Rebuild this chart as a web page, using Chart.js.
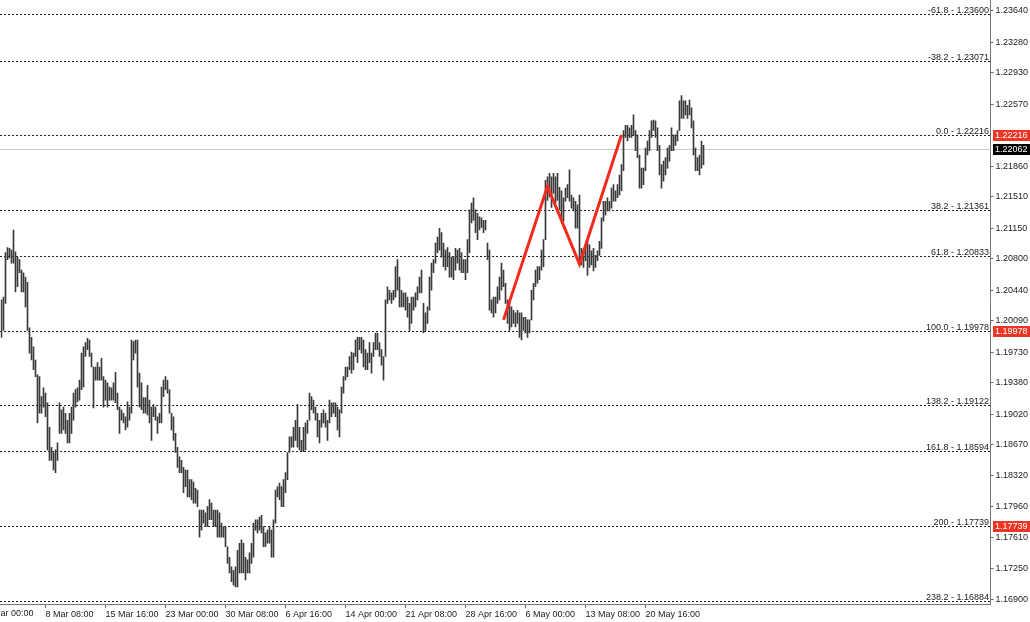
<!DOCTYPE html>
<html>
<head>
<meta charset="utf-8">
<title>EURUSD H4 - Fibonacci</title>
<script src="https://cdn.jsdelivr.net/npm/chart.js@4.4.1/dist/chart.umd.min.js"></script>
<style>
    html, body { margin: 0; padding: 0; background: #fff; }
    #wrap { width: 1030px; height: 622px; }
</style>
</head>
<body>
<div id="wrap"><canvas id="priceChart" width="1030" height="622"></canvas></div>
<script>
        // bar highs / lows, one per 4h bar, oldest first
        const highs = [
            1.2033, 1.2036, 1.2087, 1.2093, 1.2092, 1.2090, 1.2113, 1.2088, 1.2082, 1.2079,
            1.2067, 1.2064, 1.2059, 1.2053, 1.2001, 1.1990, 1.1979, 1.1964, 1.1947, 1.1945,
            1.1922, 1.1932, 1.1926, 1.1915, 1.1887, 1.1864, 1.1858, 1.1861, 1.1869, 1.1915,
            1.1907, 1.1910, 1.1903, 1.1895, 1.1903, 1.1910, 1.1926, 1.1930, 1.1932, 1.1941,
            1.1972, 1.1979, 1.1984, 1.1989, 1.1987, 1.1972, 1.1956, 1.1956, 1.1961, 1.1956,
            1.1966, 1.1945, 1.1941, 1.1938, 1.1933, 1.1932, 1.1938, 1.1950, 1.1926, 1.1910,
            1.1907, 1.1903, 1.1899, 1.1916, 1.1910, 1.1987, 1.1985, 1.1987, 1.1987, 1.1949,
            1.1938, 1.1921, 1.1921, 1.1935, 1.1918, 1.1910, 1.1913, 1.1910, 1.1899, 1.1903,
            1.1933, 1.1941, 1.1945, 1.1941, 1.1930, 1.1903, 1.1899, 1.1880, 1.1864,
            1.1853, 1.1849, 1.1841, 1.1838, 1.1838, 1.1827, 1.1827, 1.1824, 1.1817, 1.1815,
            1.1792, 1.1792, 1.1792, 1.1789, 1.1796, 1.1804, 1.1800, 1.1792, 1.1792, 1.1792,
            1.1789, 1.1777, 1.1773, 1.1773, 1.1750, 1.1738, 1.1727, 1.1723, 1.1727, 1.1746,
            1.1754, 1.1758, 1.1754, 1.1738, 1.1735, 1.1743, 1.1754, 1.1777, 1.1781, 1.1781,
            1.1784, 1.1786, 1.1773, 1.1766, 1.1769, 1.1773, 1.1769, 1.1781, 1.1815, 1.1819,
            1.1823, 1.1819, 1.1827, 1.1835, 1.1858, 1.1876, 1.1876, 1.1887, 1.1895, 1.1913,
            1.1887, 1.1872, 1.1887, 1.1892, 1.1895, 1.1926, 1.1922, 1.1918, 1.1910, 1.1903,
            1.1895, 1.1903, 1.1907, 1.1903, 1.1895, 1.1918, 1.1915, 1.1915, 1.1915, 1.1910,
            1.1907, 1.1933, 1.1945, 1.1956, 1.1956, 1.1968, 1.1973,
            1.1972, 1.1987, 1.1990, 1.1990, 1.1990, 1.1987, 1.1976, 1.1972, 1.1984, 1.1972,
            1.1984, 1.1995, 1.1995, 1.1984, 1.1976, 1.1968, 1.2033, 1.2048, 1.2044, 1.2041,
            1.2044, 1.2071, 1.2079, 1.2059, 1.2044, 1.2041, 1.2041, 1.2036, 1.2029, 1.2036,
            1.2036, 1.2041, 1.2048, 1.2059, 1.2067, 1.2029, 1.2018, 1.2025, 1.2059, 1.2075,
            1.2079, 1.2098, 1.2105, 1.2115, 1.2110, 1.2098, 1.2090, 1.2093, 1.2087, 1.2082,
            1.2082, 1.2092, 1.2090, 1.2092, 1.2087, 1.2079, 1.2079, 1.2102, 1.2136, 1.2144,
            1.2150, 1.2136, 1.2132, 1.2128, 1.2127, 1.2124, 1.2124, 1.2098, 1.2090, 1.2033,
            1.2036, 1.2036, 1.2048, 1.2059, 1.2075, 1.2067, 1.2052, 1.2033, 1.2029, 1.2025,
            1.2021, 1.2018, 1.2021, 1.2018, 1.2018, 1.2013, 1.2013, 1.2010, 1.2010, 1.2044,
            1.2052, 1.2067, 1.2071, 1.2071, 1.2090, 1.2102, 1.2170, 1.2174, 1.2178, 1.2174,
            1.2178, 1.2174, 1.2178, 1.2162, 1.2158, 1.2150, 1.2161, 1.2165, 1.2182, 1.2153,
            1.2150, 1.2146, 1.2142, 1.2153, 1.2092, 1.2089, 1.2096, 1.2100, 1.2096, 1.2089,
            1.2092, 1.2084, 1.2089, 1.2100, 1.2127, 1.2146, 1.2146, 1.2150, 1.2146, 1.2161,
            1.2165, 1.2158, 1.2165, 1.2176, 1.2188, 1.2227, 1.2233, 1.2233, 1.2230, 1.2233,
            1.2245, 1.2227, 1.2222, 1.2199, 1.2184, 1.2184, 1.2207, 1.2215, 1.2227, 1.2238,
            1.2239, 1.2238, 1.2230, 1.2210, 1.2188, 1.2192, 1.2196, 1.2207, 1.2210, 1.2230,
            1.2222, 1.2222, 1.2227, 1.2261, 1.2267, 1.2261, 1.2261, 1.2256, 1.2262, 1.2253,
            1.2238, 1.2207, 1.2196, 1.2199, 1.2215, 1.2210
        ];
        const lows = [
            1.1990, 1.1998, 1.2029, 1.2079, 1.2081, 1.2075, 1.2075, 1.2042, 1.2048, 1.2064,
            1.2042, 1.2042, 1.2025, 1.1998, 1.1972, 1.1964, 1.1953, 1.1945, 1.1892, 1.1903,
            1.1903, 1.1910, 1.1899, 1.1861, 1.1849, 1.1849, 1.1838, 1.1835, 1.1849, 1.1880,
            1.1880, 1.1884, 1.1880, 1.1869, 1.1869, 1.1880, 1.1895, 1.1910, 1.1916, 1.1918,
            1.1930, 1.1933, 1.1968, 1.1976, 1.1968, 1.1956, 1.1909, 1.1941, 1.1941, 1.1941,
            1.1941, 1.1910, 1.1918, 1.1910, 1.1918, 1.1918, 1.1918, 1.1915, 1.1907, 1.1880,
            1.1895, 1.1892, 1.1884, 1.1887, 1.1895, 1.1903, 1.1964, 1.1972, 1.1933, 1.1910,
            1.1907, 1.1903, 1.1903, 1.1901, 1.1892, 1.1872, 1.1899, 1.1895, 1.1880, 1.1892,
            1.1892, 1.1922, 1.1930, 1.1926, 1.1903, 1.1884, 1.1872, 1.1858, 1.1841,
            1.1835, 1.1835, 1.1812, 1.1819, 1.1807, 1.1807, 1.1804, 1.1800, 1.1800, 1.1796,
            1.1761, 1.1769, 1.1777, 1.1773, 1.1773, 1.1781, 1.1781, 1.1773, 1.1773, 1.1761,
            1.1761, 1.1761, 1.1761, 1.1750, 1.1731, 1.1720, 1.1710, 1.1706, 1.1704, 1.1704,
            1.1720, 1.1720, 1.1720, 1.1712, 1.1720, 1.1720, 1.1731, 1.1738, 1.1769, 1.1766,
            1.1769, 1.1766, 1.1750, 1.1750, 1.1754, 1.1754, 1.1738, 1.1738, 1.1777, 1.1807,
            1.1804, 1.1796, 1.1796, 1.1812, 1.1827, 1.1858, 1.1864, 1.1864, 1.1872, 1.1864,
            1.1861, 1.1859, 1.1859, 1.1861, 1.1880, 1.1895, 1.1907, 1.1903, 1.1895, 1.1876,
            1.1869, 1.1887, 1.1892, 1.1887, 1.1872, 1.1892, 1.1899, 1.1903, 1.1899, 1.1884,
            1.1876, 1.1903, 1.1926, 1.1941, 1.1945, 1.1953, 1.1949,
            1.1953, 1.1968, 1.1961, 1.1976, 1.1972, 1.1956, 1.1953, 1.1953, 1.1961, 1.1949,
            1.1968, 1.1976, 1.1976, 1.1968, 1.1958, 1.1941, 1.1968, 1.2029, 1.2033, 1.2029,
            1.2033, 1.2036, 1.2044, 1.2025, 1.2025, 1.2025, 1.2021, 1.2013, 1.1998, 1.2006,
            1.2021, 1.2025, 1.2033, 1.2041, 1.2041, 1.1995, 1.1998, 1.2006, 1.2021, 1.2044,
            1.2064, 1.2075, 1.2087, 1.2090, 1.2082, 1.2071, 1.2067, 1.2071, 1.2059, 1.2059,
            1.2056, 1.2067, 1.2075, 1.2067, 1.2064, 1.2064, 1.2056, 1.2064, 1.2087, 1.2121,
            1.2124, 1.2110, 1.2102, 1.2113, 1.2116, 1.2110, 1.2113, 1.2079, 1.2021, 1.2018,
            1.2013, 1.2018, 1.2029, 1.2033, 1.2044, 1.2048, 1.2029, 1.2006, 1.1998, 1.2002,
            1.2006, 1.2002, 1.2006, 1.1990, 1.1987, 1.1998, 1.1995, 1.1990, 1.1995, 1.2010,
            1.2033, 1.2048, 1.2052, 1.2056, 1.2067, 1.2071, 1.2102, 1.2147, 1.2151, 1.2139,
            1.2155, 1.2144, 1.2147, 1.2136, 1.2124, 1.2123, 1.2146, 1.2150, 1.2146, 1.2138,
            1.2135, 1.2115, 1.2115, 1.2073, 1.2073, 1.2070, 1.2078, 1.2061, 1.2070, 1.2073,
            1.2066, 1.2070, 1.2078, 1.2084, 1.2092, 1.2123, 1.2130, 1.2135, 1.2135, 1.2138,
            1.2146, 1.2146, 1.2150, 1.2153, 1.2158, 1.2181, 1.2219, 1.2215, 1.2219, 1.2219,
            1.2222, 1.2204, 1.2196, 1.2161, 1.2161, 1.2165, 1.2181, 1.2199, 1.2204, 1.2219,
            1.2227, 1.2219, 1.2204, 1.2176, 1.2161, 1.2169, 1.2176, 1.2184, 1.2192, 1.2204,
            1.2204, 1.2210, 1.2215, 1.2227, 1.2241, 1.2241, 1.2245, 1.2241, 1.2245, 1.2230,
            1.2199, 1.2181, 1.2181, 1.2176, 1.2184, 1.2188
        ];

        // time axis: one label every 30 bars, first one falls before the visible range
        const timeLabels = ['1 Mar 00:00', '8 Mar 08:00', '15 Mar 16:00', '23 Mar 00:00', '30 Mar 08:00',
            '6 Apr 16:00', '14 Apr 00:00', '21 Apr 08:00', '28 Apr 16:00', '6 May 00:00',
            '13 May 08:00', '20 May 16:00'];
        const firstLabelBar = -8;
        const barsPerLabel = 30;
        const totalSlots = 495;   // bars + empty chart shift on the right

        const yTicks = [1.23640, 1.23280, 1.22930, 1.22570, 1.21860, 1.21510, 1.21150, 1.20800,
            1.20440, 1.20090, 1.19730, 1.19380, 1.19020, 1.18670, 1.18320, 1.17960, 1.17610,
            1.17250, 1.16900];
        const yMin = 1.16844;
        const yMax = 1.23766;

        // fibonacci retracement levels
        const fibRatios = ['-61.8', '-38.2', '0.0', '38.2', '61.8', '100.0', '138.2', '161.8', '200', '238.2'];
        const fibPrices = [1.23600, 1.23071, 1.22216, 1.21361, 1.20833, 1.19978, 1.19122, 1.18594, 1.17739, 1.16884];

        // red zigzag drawn on the chart
        const zigzagBars = [251, 273, 289, 310];
        const zigzagPrices = [1.2010, 1.2163, 1.2074, 1.2222];

        const bidPrice = 1.22062;
        const markedPrices = [1.22216, 1.19978, 1.17739];

        const FONT = { family: 'Liberation Sans, Arial, sans-serif', size: 9 };

        const catLabels = [];
        for (let i = 0; i < totalSlots; i++) catLabels.push('');
        timeLabels.forEach((t, k) => {
            const idx = firstLabelBar + k * barsPerLabel;
            if (idx >= 0 && idx < totalSlots) catLabels[idx] = t;
        });

        const barData = catLabels.map((_, i) => i < highs.length ? [lows[i], highs[i]] : null);
        const zigzagData = catLabels.map(() => null);
        zigzagBars.forEach((b, k) => { zigzagData[b] = zigzagPrices[k]; });

        function noPadding(s) {
            s.paddingTop = 0;
            s.paddingBottom = 0;
            s.paddingLeft = 0;
            s.paddingRight = 0;
        }

        const fiboPlugin = {
            id: 'fibo',
            beforeDatasetsDraw(chart) {
                const { ctx, chartArea } = chart;
                const y = chart.scales.y;
                const left = 0, right = Math.round(chartArea.right);
                ctx.save();
                // bid line
                const by = Math.round(y.getPixelForValue(bidPrice)) + 0.5;
                ctx.strokeStyle = '#c8c8c8';
                ctx.lineWidth = 1;
                ctx.beginPath();
                ctx.moveTo(left, by);
                ctx.lineTo(right, by);
                ctx.stroke();

                ctx.strokeStyle = '#222';
                ctx.setLineDash([2, 2]);
                ctx.font = FONT.size + 'px ' + FONT.family;
                ctx.fillStyle = '#222';
                ctx.textAlign = 'right';
                ctx.textBaseline = 'alphabetic';
                fibPrices.forEach((p, k) => {
                    const py = Math.round(y.getPixelForValue(p)) + 0.5;
                    ctx.beginPath();
                    ctx.moveTo(left, py);
                    ctx.lineTo(right, py);
                    ctx.stroke();
                    ctx.fillText(fibRatios[k] + ' - ' + p.toFixed(5), right - 2, py - 2);
                });
                ctx.restore();
            },
            afterDraw(chart) {
                const { ctx, chartArea } = chart;
                const y = chart.scales.y;
                const x = chart.scales.x;
                const right = Math.round(chartArea.right);
                ctx.save();
                ctx.font = FONT.size + 'px ' + FONT.family;
                ctx.textAlign = 'left';

                // time label that starts left of the visible area
                ctx.fillStyle = '#222';
                ctx.textBaseline = 'top';
                ctx.fillText(timeLabels[0], x.getPixelForValue(firstLabelBar), chartArea.bottom + 5);

                ctx.textBaseline = 'middle';
                const boxes = markedPrices.map(p => ({ p, bg: '#ee3524' }))
                    .concat([{ p: bidPrice, bg: '#000' }]);
                boxes.forEach(b => {
                    const py = Math.round(y.getPixelForValue(b.p));
                    ctx.fillStyle = b.bg;
                    ctx.fillRect(right + 2, py - 5, 38, 11);
                    ctx.fillStyle = '#fff';
                    ctx.fillText(b.p.toFixed(5), right + 4, py + 0.5);
                });
                ctx.restore();
            }
        };

        window.addEventListener('load', function() {
            const ctx = document.getElementById('priceChart').getContext('2d');
            window.priceChart = new Chart(ctx, {
                type: 'bar',
                data: {
                    labels: catLabels,
                    datasets: [{
                        type: 'line',
                        label: 'zigzag',
                        data: zigzagData,
                        borderColor: '#f32a1c',
                        borderWidth: 3,
                        pointRadius: 0,
                        spanGaps: true,
                        tension: 0,
                        order: 0
                    }, {
                        label: 'EURUSD,H4',
                        data: barData,
                        backgroundColor: '#3a3a3a',
                        borderWidth: 0,
                        barThickness: 1,
                        grouped: false,
                        order: 1
                    }]
                },
                options: {
                    responsive: false,
                    animation: false,
                    // half-pixel shift so the 1px bars land on whole pixels
                    layout: { padding: { left: 0.5, right: 0, top: 0, bottom: 0 } },
                    plugins: { legend: { display: false }, tooltip: { enabled: false } },
                    scales: {
                        x: {
                            type: 'category',
                            offset: true,
                            afterBuildTicks: s => { s.ticks = s.ticks.filter(t => catLabels[t.value]); },
                            afterFit: s => { s.height = 18; noPadding(s); },
                            grid: { drawOnChartArea: false, offset: false, tickLength: 4, color: '#666' },
                            border: { display: true, color: '#777', width: 1 },
                            ticks: { autoSkip: false, maxRotation: 0, align: 'start', padding: 1, color: '#222', font: FONT }
                        },
                        y: {
                            position: 'right',
                            min: yMin,
                            max: yMax,
                            afterBuildTicks: s => { s.ticks = yTicks.map(v => ({ value: v })); },
                            afterFit: s => { s.width = 39.5; noPadding(s); },
                            grid: { drawOnChartArea: false, tickLength: 3, color: '#666' },
                            border: { display: true, color: '#777', width: 1 },
                            ticks: { padding: 2, color: '#222', font: FONT, callback: v => v.toFixed(5) }
                        }
                    }
                },
                plugins: [fiboPlugin]
            });
        });
</script>
</body>
</html>
